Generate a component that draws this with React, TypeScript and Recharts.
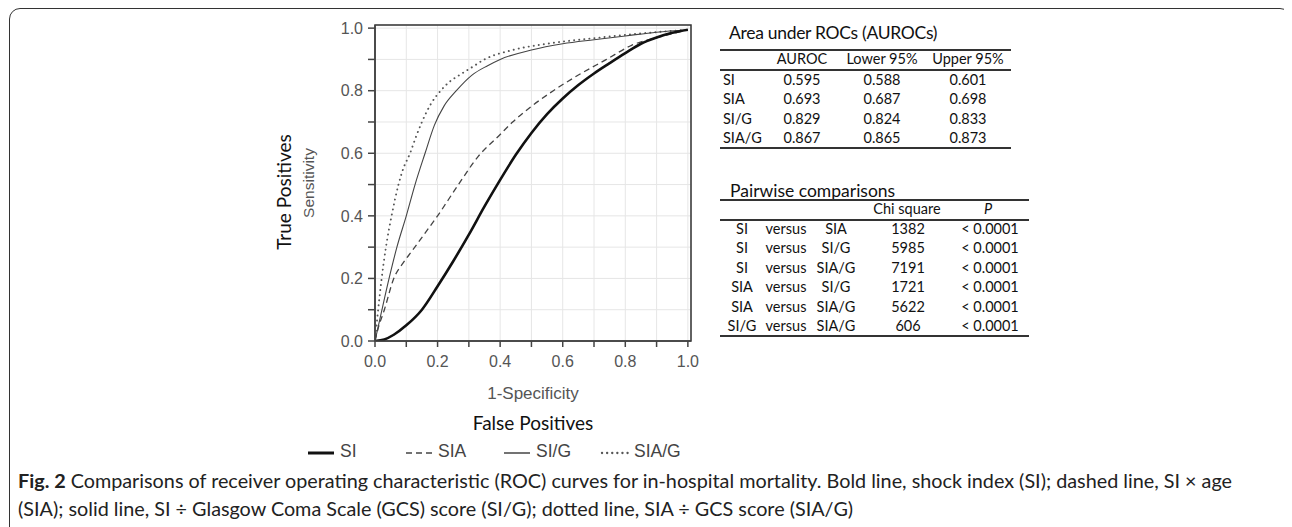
import { LineChart, Line, XAxis, YAxis, CartesianGrid, Legend, Label, ReferenceArea } from 'recharts'

// ROC curves (false positive rate -> true positive rate)
const siFpr = [0, 0.03, 0.06, 0.1, 0.15, 0.2, 0.25, 0.3, 0.35, 0.4, 0.45, 0.5, 0.55, 0.6, 0.65, 0.7, 0.75, 0.8, 0.85, 0.9, 0.95, 1.0]
const siTpr = [0, 0.005, 0.02, 0.05, 0.1, 0.175, 0.255, 0.34, 0.43, 0.515, 0.595, 0.665, 0.725, 0.775, 0.818, 0.855, 0.888, 0.92, 0.95, 0.97, 0.985, 0.995]

const siaFpr = [0, 0.01, 0.03, 0.06, 0.09, 0.12, 0.16, 0.2, 0.26, 0.33, 0.4, 0.44, 0.5, 0.57, 0.65, 0.74, 0.82, 0.91, 1.0]
const siaTpr = [0, 0.04, 0.1, 0.2, 0.25, 0.29, 0.345, 0.4, 0.49, 0.59, 0.66, 0.7, 0.75, 0.8, 0.85, 0.9, 0.945, 0.972, 0.995]

const sigFpr = [0, 0.02, 0.045, 0.07, 0.1, 0.128, 0.16, 0.19, 0.22, 0.26, 0.31, 0.36, 0.4, 0.5, 0.6, 0.7, 0.8, 0.9, 1.0]
const sigTpr = [0, 0.09, 0.2, 0.3, 0.4, 0.5, 0.6, 0.69, 0.75, 0.8, 0.85, 0.88, 0.9, 0.93, 0.95, 0.963, 0.975, 0.987, 0.995]

const siagFpr = [0, 0.008, 0.02, 0.035, 0.053, 0.075, 0.09, 0.112, 0.13, 0.15, 0.18, 0.21, 0.24, 0.27, 0.31, 0.35, 0.44, 0.55, 0.72, 0.85, 1.0]
const siagTpr = [0, 0.08, 0.19, 0.3, 0.4, 0.5, 0.55, 0.6, 0.65, 0.7, 0.76, 0.8, 0.83, 0.85, 0.875, 0.9, 0.93, 0.95, 0.97, 0.983, 0.995]

const axisTicks = [0, 0.1, 0.2, 0.3, 0.4, 0.5, 0.6, 0.7, 0.8, 0.9, 1.0]

// AUROC table
const aurocHeader = ['AUROC', 'Lower 95%', 'Upper 95%']
const aurocNames = ['SI', 'SIA', 'SI/G', 'SIA/G']
const aurocValues = ['0.595', '0.693', '0.829', '0.867']
const aurocLower = ['0.588', '0.687', '0.824', '0.865']
const aurocUpper = ['0.601', '0.698', '0.833', '0.873']

// pairwise table
const pairA = ['SI', 'SI', 'SI', 'SIA', 'SIA', 'SI/G']
const pairB = ['SIA', 'SI/G', 'SIA/G', 'SI/G', 'SIA/G', 'SIA/G']
const chiSquare = ['1382', '5985', '7191', '1721', '5622', '606']
const pValues = ['< 0.0001', '< 0.0001', '< 0.0001', '< 0.0001', '< 0.0001', '< 0.0001']

const toPoints = (fpr: number[], tpr: number[]) => fpr.map((x, i) => ({ fpr: x, tpr: tpr[i] }))

const series = [
    { name: 'SIA/G', data: toPoints(siagFpr, siagTpr), stroke: '#555', width: 1.9, dash: '0.1 5', cap: 'round' },
    { name: 'SI/G', data: toPoints(sigFpr, sigTpr), stroke: '#444', width: 1.1, dash: undefined, cap: 'butt' },
    { name: 'SIA', data: toPoints(siaFpr, siaTpr), stroke: '#444', width: 1.3, dash: '6 4', cap: 'butt' },
    { name: 'SI', data: toPoints(siFpr, siTpr), stroke: '#111', width: 2.6, dash: undefined, cap: 'butt' },
]
const legendOrder = ['SI', 'SIA', 'SI/G', 'SIA/G']

const calibri = 'Lato, "Open Sans", sans-serif'
const arial = '"Liberation Sans", Arial, sans-serif'
const offset = 8 // body margin

const fmtTick = (v: number) => (Math.round(v * 10) % 2 === 0 ? v.toFixed(1) : '')

const XLabel = (props: any) => {
    const vb = props.viewBox
    const cx = vb.x + vb.width / 2
    return (
        <g>
            <text x={cx} y={393 - offset} textAnchor="middle" dominantBaseline="central" fill="#555" fontSize={17} fontFamily={arial}>1-Specificity</text>
            <text x={cx} y={422 - offset} textAnchor="middle" dominantBaseline="central" fill="#111" fontSize={19} fontFamily={calibri}>False Positives</text>
        </g>
    )
}

const YLabel = (props: any) => {
    const vb = props.viewBox
    const cy = vb.y + vb.height / 2
    return (
        <g>
            <text x={283 - offset} y={cy + 9} transform={`rotate(-90 ${283 - offset} ${cy + 9})`} textAnchor="middle" dominantBaseline="central" fill="#111" fontSize={19} fontFamily={calibri}>True Positives</text>
            <text x={308 - offset} y={cy} transform={`rotate(-90 ${308 - offset} ${cy})`} textAnchor="middle" dominantBaseline="central" fill="#555" fontSize={15.5} fontFamily={arial}>Sensitivity</text>
        </g>
    )
}

const renderLegend = () => (
    <div style={{ display: 'flex', fontFamily: arial, fontSize: 17.5, color: '#444' }}>
        {legendOrder.map(name => {
            const s: any = series.find(item => item.name === name)
            return (
                <div key={name} style={{ width: 98, display: 'flex', alignItems: 'center' }}>
                    <svg width={30} height={20}>
                        <line x1={2} y1={11} x2={28} y2={11} stroke={s.stroke} strokeWidth={s.width + 0.4} strokeDasharray={s.dash} strokeLinecap={s.cap} />
                    </svg>
                    <span style={{ marginLeft: 4 }}>{name}</span>
                </div>
            )
        })}
    </div>
)

const cellStyle = (left: number, top: number, width: number, align: string, extra?: any): any => ({
    position: 'absolute', left: left - offset, top: top - offset - 10, width, height: 20, lineHeight: '20px',
    textAlign: align, whiteSpace: 'nowrap', ...extra,
})

const hLine = (left: number, right: number, top: number) => (
    <div style={{ position: 'absolute', left: left - offset, top: top - offset, width: right - left, height: 1.5, background: '#333' }} />
)

const App = () => {
    return (
        <div style={{ position: 'relative', width: 1284, height: 600, fontFamily: calibri, color: '#111' }}>
            <style>{'body{overflow:hidden}'}</style>
            <div style={{ position: 'absolute', left: 1, top: 0, width: 1282, height: 620, border: '1.5px solid #333', borderRadius: 11, boxSizing: 'border-box' }} />

            <div style={{ position: 'absolute', left: 0, top: 0 }}>
                <LineChart width={700} height={470} margin={{ top: 17, right: 17, left: 307, bottom: 107 }}>
                    <CartesianGrid stroke="#e6e6e6" strokeWidth={1} />
                    <XAxis dataKey="fpr" type="number" domain={[0, 1.01]} ticks={axisTicks} interval={0} tickFormatter={fmtTick}
                        height={30} tickSize={6} tickMargin={9} stroke="#444" strokeWidth={1.5}
                        tick={{ fill: '#555', fontSize: 16, fontFamily: arial }} allowDataOverflow>
                        <Label content={XLabel} />
                    </XAxis>
                    <YAxis type="number" domain={[0, 1.01]} ticks={axisTicks} interval={0} tickFormatter={fmtTick}
                        width={60} tickSize={7} tickMargin={5} stroke="#444" strokeWidth={1.5}
                        tick={{ fill: '#555', fontSize: 16, fontFamily: arial }} allowDataOverflow>
                        <Label content={YLabel} />
                    </YAxis>
                    <ReferenceArea x1={0} x2={1.01} y1={0} y2={1.01} fill="none" stroke="#333" strokeWidth={1.5} ifOverflow="visible" />
                    {series.map(s => (
                        <Line key={s.name} data={s.data} dataKey="tpr" name={s.name} type="monotone" dot={false} activeDot={false}
                            stroke={s.stroke} strokeWidth={s.width} strokeDasharray={s.dash} strokeLinecap={s.cap as any}
                            isAnimationActive={false} />
                    ))}
                    <Legend layout="horizontal" verticalAlign="middle" align="center" content={renderLegend}
                        wrapperStyle={{ top: 441 - offset, left: 306 - offset, width: 420, height: 20 }} />
                </LineChart>
            </div>

            {/* AUROC table */}
            <div style={{ position: 'absolute', left: 0, top: 0, width: 1284, height: 360, fontSize: 14.5 }}>
                <div style={cellStyle(729, 33, 280, 'left', { fontSize: 17.5, letterSpacing: -0.3 })}>Area under ROCs (AUROCs)</div>
                {hLine(720, 1011, 49)}
                {aurocHeader.map((h, i) => (
                    <div key={h} style={cellStyle([802, 882, 968][i] - 50, 59, 100, 'center')}>{h}</div>
                ))}
                {hLine(720, 1011, 69)}
                {aurocNames.map((n, r) => {
                    const y = 80 + r * 19.3
                    return (
                        <div key={n}>
                            <div style={cellStyle(723, y, 60, 'left')}>{n}</div>
                            <div style={cellStyle(752, y, 100, 'center')}>{aurocValues[r]}</div>
                            <div style={cellStyle(832, y, 100, 'center')}>{aurocLower[r]}</div>
                            <div style={cellStyle(918, y, 100, 'center')}>{aurocUpper[r]}</div>
                        </div>
                    )
                })}
                {hLine(720, 1011, 147)}

                {/* pairwise comparisons */}
                <div style={cellStyle(730, 191, 260, 'left', { fontSize: 17.5 })}>Pairwise comparisons</div>
                {hLine(720, 1029, 199)}
                <div style={cellStyle(857, 209, 100, 'center')}>Chi square</div>
                <div style={cellStyle(938, 209, 100, 'center', { fontStyle: 'italic' })}>P</div>
                {hLine(720, 1029, 219)}
                {pairA.map((a, r) => {
                    const y = 229 + r * 19.4
                    return (
                        <div key={r}>
                            <div style={cellStyle(712, y, 60, 'center')}>{a}</div>
                            <div style={cellStyle(756, y, 60, 'center')}>versus</div>
                            <div style={cellStyle(806, y, 60, 'center')}>{pairB[r]}</div>
                            <div style={cellStyle(858, y, 100, 'center')}>{chiSquare[r]}</div>
                            <div style={cellStyle(940, y, 100, 'center')}>{pValues[r]}</div>
                        </div>
                    )
                })}
                {hLine(720, 1029, 335)}
            </div>

            {/* caption */}
            <div style={{ position: 'absolute', left: 18 - offset, top: 480 - offset - 14, fontSize: 19.8, lineHeight: '28px', whiteSpace: 'nowrap', color: '#222' }}>
                <b>Fig. 2</b> Comparisons of receiver operating characteristic (ROC) curves for in-hospital mortality. Bold line, shock index (SI); dashed line, SI × age<br />
                (SIA); solid line, SI ÷ Glasgow Coma Scale (GCS) score (SI/G); dotted line, SIA ÷ GCS score (SIA/G)
            </div>
        </div>
    )
}

export default App
